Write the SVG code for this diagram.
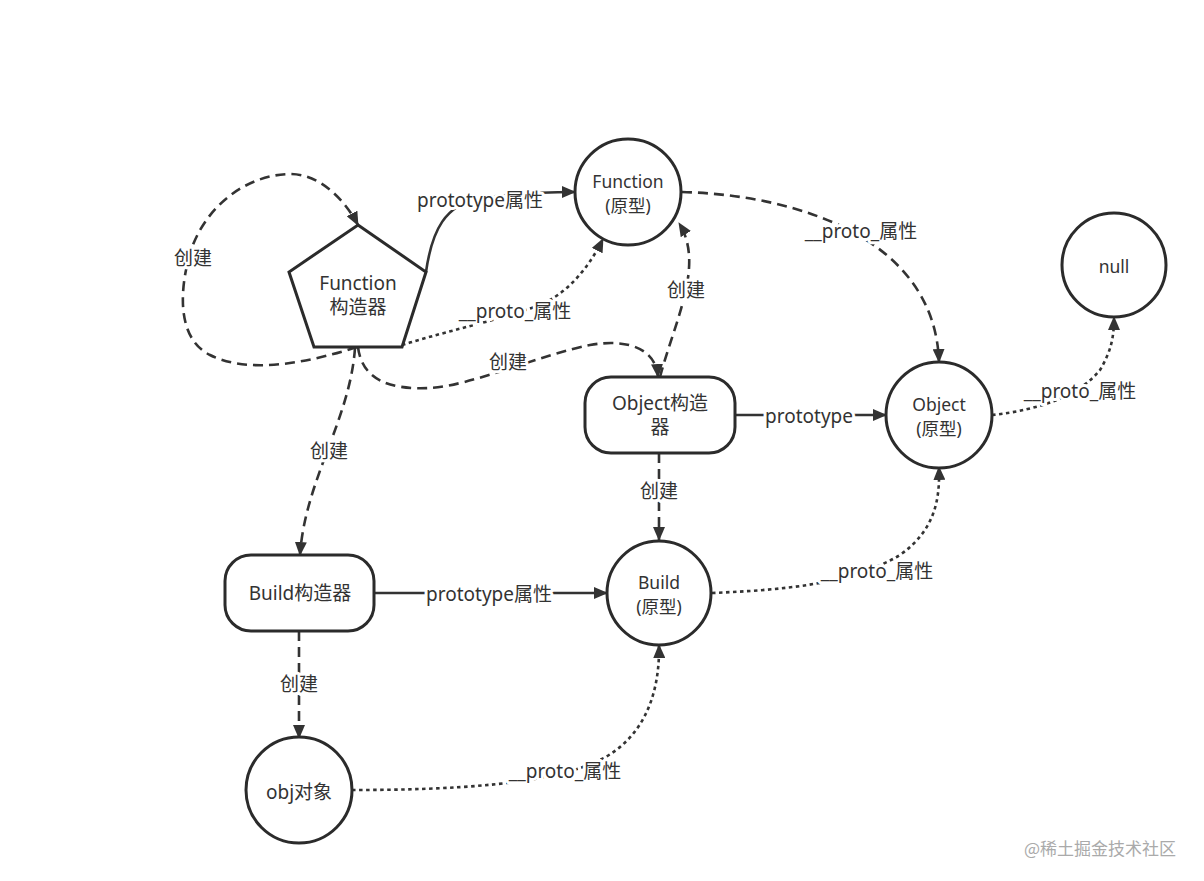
<svg xmlns="http://www.w3.org/2000/svg" width="1204" height="881" viewBox="0 0 1204 881">
<style>
.node{fill:#fff;stroke:#2b2b2b;stroke-width:3}
.nt{font-family:"Noto Sans","Noto Sans CJK SC",sans-serif;fill:#333;text-anchor:middle;dominant-baseline:central}
.ct{font-size:17.5px}
.bt{font-size:19px}
.e{fill:none;stroke:#333;stroke-width:2.6}
.solid{}
.dash{stroke-dasharray:10 6}
.dot{stroke-dasharray:3.5 3.5}
.lbl{font-family:"Noto Sans","Noto Sans CJK SC",sans-serif;font-size:19px;fill:#333;text-anchor:middle;dominant-baseline:central;stroke:#fff;stroke-width:6;paint-order:stroke;stroke-linejoin:round}
</style>
<defs>
<marker id="arr" viewBox="0 0 14 12" refX="13" refY="6" markerWidth="14" markerHeight="12" orient="auto" markerUnits="userSpaceOnUse"><path d="M0,0 L14,6 L0,12 z" fill="#333"/></marker>
</defs>
<rect width="1204" height="881" fill="#fff"/>
<g id="connectors">
<path class="e dash" d="M357,347 C310,362 250,375 210,355 C180,340 180,300 186,270 C195,215 240,175 290,174 C320,174 345,200 358,225" marker-end="url(#arr)"/>
<path class="e solid" d="M426,272 C432,230 445,205 480,198 C510,194 540,192 575,192" marker-end="url(#arr)"/>
<path class="e dot" d="M402,345 C450,330 500,320 540,305 C570,292 590,265 603,239" marker-end="url(#arr)"/>
<path class="e dash" d="M358,347 C362,380 390,390 430,388 C470,386 540,355 590,345 C630,338 656,350 658,377" marker-end="url(#arr)"/>
<path class="e dash" d="M355,348 C350,420 305,480 300,555" marker-end="url(#arr)"/>
<path class="e dash" d="M660,377 C675,320 705,265 679,223" marker-end="url(#arr)"/>
<path class="e dash" d="M682,192 C800,195 935,240 939,362" marker-end="url(#arr)"/>
<path class="e solid" d="M735,415 L886,415" marker-end="url(#arr)"/>
<path class="e dash" d="M659,453 L659,540" marker-end="url(#arr)"/>
<path class="e solid" d="M374,593 L607,593" marker-end="url(#arr)"/>
<path class="e dash" d="M299,631 L299,738" marker-end="url(#arr)"/>
<path class="e dot" d="M352,790 C450,790 550,785 600,760 C640,740 660,700 659,645" marker-end="url(#arr)"/>
<path class="e dot" d="M712,593 C780,590 850,585 900,555 C935,530 940,500 939,467" marker-end="url(#arr)"/>
<path class="e dot" d="M992,415 C1040,410 1080,395 1100,370 C1112,350 1114,335 1114,317" marker-end="url(#arr)"/>
<text class="lbl" x="193" y="258">创建</text>
<text class="lbl" x="480" y="200">prototype属性</text>
<text class="lbl" x="515" y="311">__proto_属性</text>
<text class="lbl" x="508" y="362">创建</text>
<text class="lbl" x="329" y="451">创建</text>
<text class="lbl" x="686" y="290">创建</text>
<text class="lbl" x="861" y="231">__proto_属性</text>
<text class="lbl" x="809" y="416">prototype</text>
<text class="lbl" x="659" y="491">创建</text>
<text class="lbl" x="489" y="594">prototype属性</text>
<text class="lbl" x="299" y="684">创建</text>
<text class="lbl" x="565" y="771">__proto_属性</text>
<text class="lbl" x="877" y="571">__proto_属性</text>
<text class="lbl" x="1080" y="391">__proto_属性</text>
</g>
<g id="function-constructor">
<polygon class="node" points="358,225 426,272 402,347 314,347 289,272"/>
<text class="nt bt" x="358" y="283">Function</text>
<text class="nt bt" x="358" y="307">构造器</text>
</g>
<g id="function-proto">
<circle class="node" cx="628" cy="192" r="53"/>
<text class="nt ct" x="628" y="181">Function</text>
<text class="nt ct" x="628" y="205">(原型)</text>
</g>
<g id="null">
<circle class="node" cx="1114" cy="265" r="52"/>
<text class="nt ct" x="1114" y="266">null</text>
</g>
<g id="object-constructor">
<rect class="node" x="585" y="377" width="150" height="76" rx="26"/>
<text class="nt bt" x="660" y="403">Object构造</text>
<text class="nt bt" x="660" y="427">器</text>
</g>
<g id="object-proto">
<circle class="node" cx="939" cy="415" r="53"/>
<text class="nt ct" x="939" y="404">Object</text>
<text class="nt ct" x="939" y="428">(原型)</text>
</g>
<g id="build-constructor">
<rect class="node" x="225" y="555" width="149" height="76" rx="26"/>
<text class="nt bt" x="300" y="593">Build构造器</text>
</g>
<g id="build-proto">
<circle class="node" cx="659" cy="593" r="52"/>
<text class="nt ct" x="659" y="582">Build</text>
<text class="nt ct" x="659" y="606">(原型)</text>
</g>
<g id="obj">
<circle class="node" cx="299" cy="790" r="53"/>
<text class="nt bt" x="299" y="792">obj对象</text>
</g>
<text x="1100" y="847" font-family="Noto Sans CJK SC, sans-serif" font-size="17" fill="#aaa" text-anchor="middle" dominant-baseline="central">@稀土掘金技术社区</text>
</svg>
